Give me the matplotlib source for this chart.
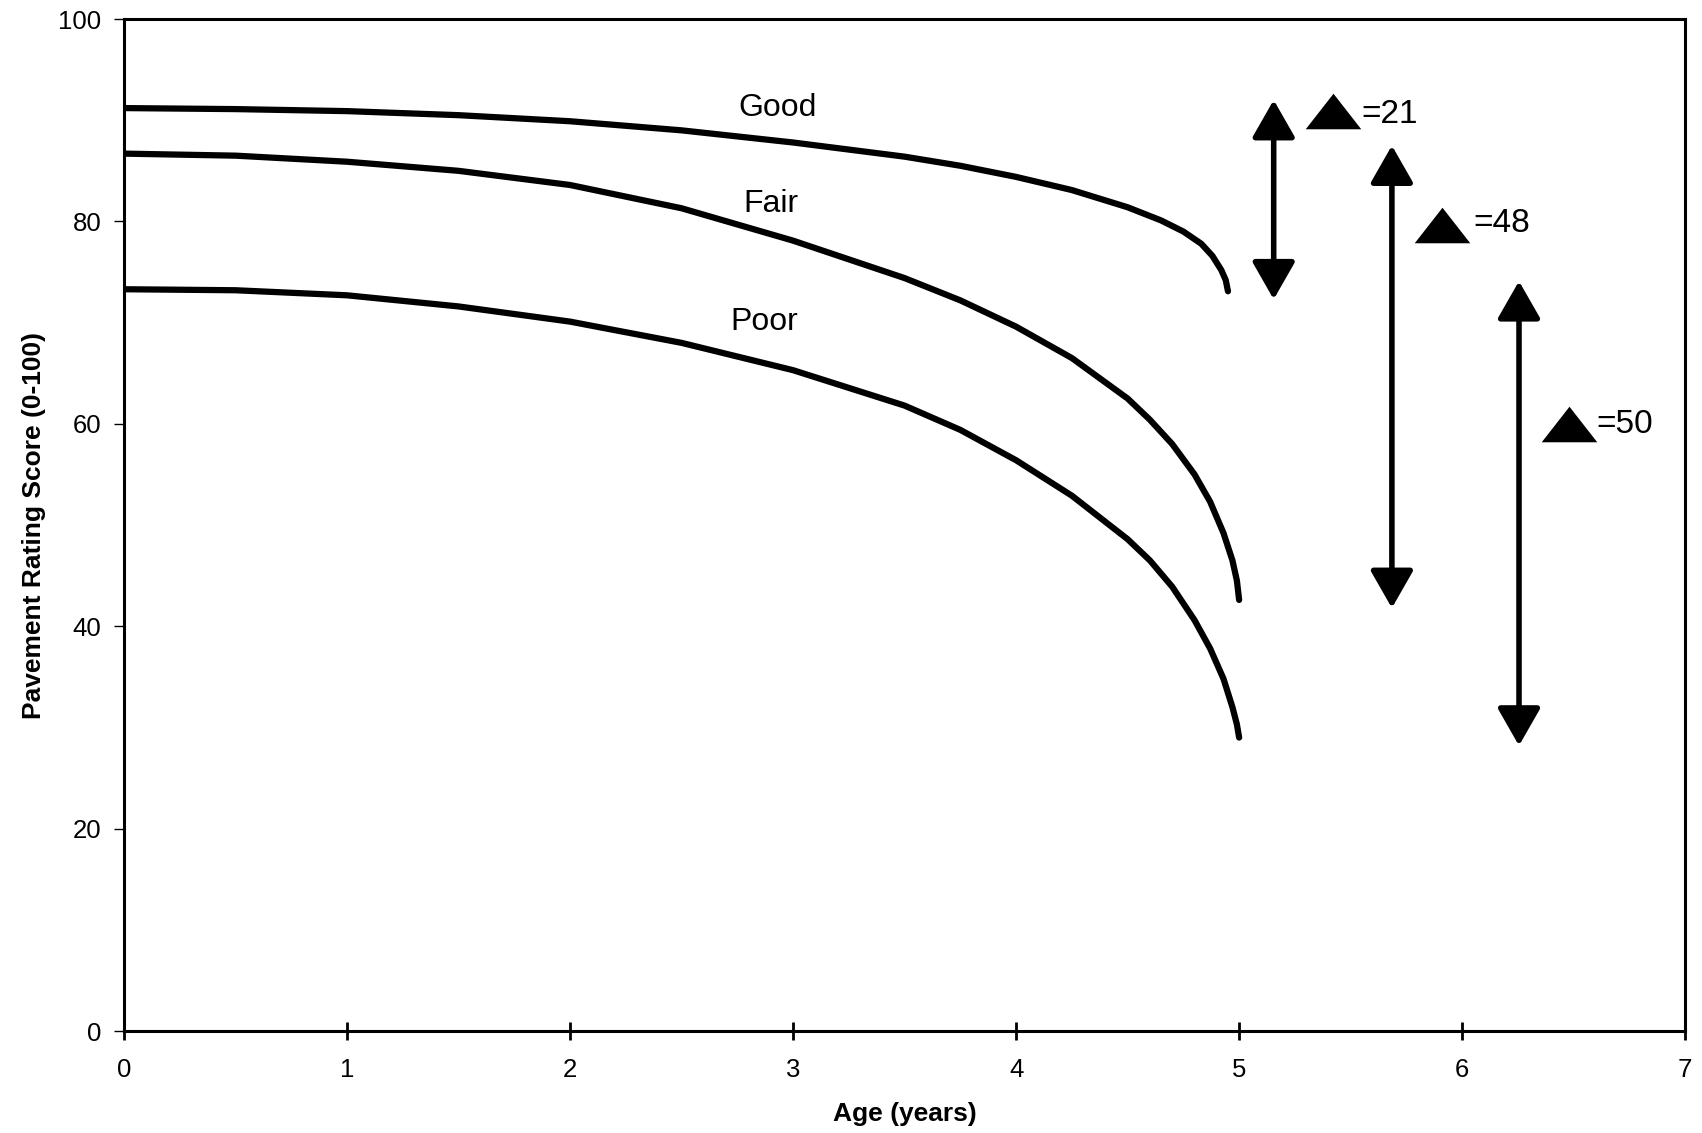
import matplotlib.pyplot as plt

# pavement rating score vs age
good_age = [0, 0.5, 1, 1.5, 2, 2.5, 3, 3.5, 3.75, 4, 4.25, 4.5, 4.65, 4.75, 4.83, 4.88, 4.92, 4.94, 4.95]
good_score = [91.2, 91.1, 90.9, 90.5, 89.9, 89.0, 87.8, 86.4, 85.5, 84.4, 83.1, 81.4, 80.1, 79.0, 77.8, 76.6, 75.2, 74.2, 73.1]

fair_age = [0, 0.5, 1, 1.5, 2, 2.5, 3, 3.5, 3.75, 4, 4.25, 4.5, 4.6, 4.7, 4.8, 4.87, 4.93, 4.97, 4.99, 5.0]
fair_score = [86.7, 86.5, 85.9, 85.0, 83.6, 81.3, 78.1, 74.4, 72.2, 69.6, 66.5, 62.5, 60.4, 58.0, 55.0, 52.3, 49.2, 46.5, 44.5, 42.6]

poor_age = [0, 0.5, 1, 1.5, 2, 2.5, 3, 3.5, 3.75, 4, 4.25, 4.5, 4.6, 4.7, 4.8, 4.87, 4.93, 4.97, 4.99, 5.0]
poor_score = [73.3, 73.2, 72.7, 71.6, 70.1, 68.0, 65.3, 61.8, 59.4, 56.4, 52.9, 48.6, 46.5, 43.9, 40.6, 37.8, 34.8, 32.0, 30.3, 29.0]

curve_names = ['Good', 'Fair', 'Poor']
delta_labels = ['=21', '=48', '=50']

# layout of the annotations (data coordinates)
name_pos = [(2.93, 90.4), (2.90, 80.9), (2.87, 69.3)]
arrow_x = [5.155, 5.685, 6.255]
arrow_pad = 0.8
tri_pos = [(5.42, 90.95), (5.91, 79.65), (6.48, 60.0)]
delta_pos = [(5.55, 89.7), (6.05, 79.0), (6.60, 59.1)]

plt.rcParams['font.family'] = ['Liberation Sans', 'DejaVu Sans']

fig = plt.figure(figsize=(17.02, 11.33), dpi=100, facecolor='w')
ax = fig.add_axes([0.0729, 0.0900, 0.9172, 0.8932])

curves = [(good_age, good_score), (fair_age, fair_score), (poor_age, poor_score)]
for (xs, ys) in curves:
    ax.plot(xs, ys, color='black', lw=4.5, solid_capstyle='round', solid_joinstyle='round')

for name, (tx, ty) in zip(curve_names, name_pos):
    ax.text(tx, ty, name, fontsize=23, ha='center', va='baseline')

# double arrows spanning start -> end score of each curve
for (xs, ys), x in zip(curves, arrow_x):
    ax.annotate('', xy=(x, ys[-1] - arrow_pad), xytext=(x, ys[0] + arrow_pad),
                arrowprops=dict(arrowstyle='<|-|>,head_length=1.05,head_width=0.6',
                                mutation_scale=22, lw=4, color='black',
                                shrinkA=0, shrinkB=0))

tri = [(-1, -0.64), (1, -0.64), (0, 0.64)]
for (px, py), lab, (lx, ly) in zip(tri_pos, delta_labels, delta_pos):
    ax.plot(px, py, marker=tri, markersize=40, color='black', mew=0, linestyle='none')
    ax.text(lx, ly, lab, fontsize=24, ha='left', va='baseline')

ax.set_xlim(0, 7)
ax.set_ylim(0, 100)
ax.set_xticks(range(0, 8))
ax.set_yticks(range(0, 101, 20))
ax.tick_params(axis='x', direction='inout', length=13, width=2, pad=13, labelsize=18.5)
ax.tick_params(axis='y', direction='out', length=7, width=1, pad=9.5, labelsize=18.5)
for sp in ax.spines.values():
    sp.set_linewidth(2.2)
    sp.set_color('black')

ax.set_xlabel('Age (years)', fontsize=19, fontweight='bold', labelpad=14)
ax.set_ylabel('Pavement Rating Score (0-100)', fontsize=19, fontweight='bold', labelpad=9)

plt.savefig('out.png', dpi=100, facecolor='w')
